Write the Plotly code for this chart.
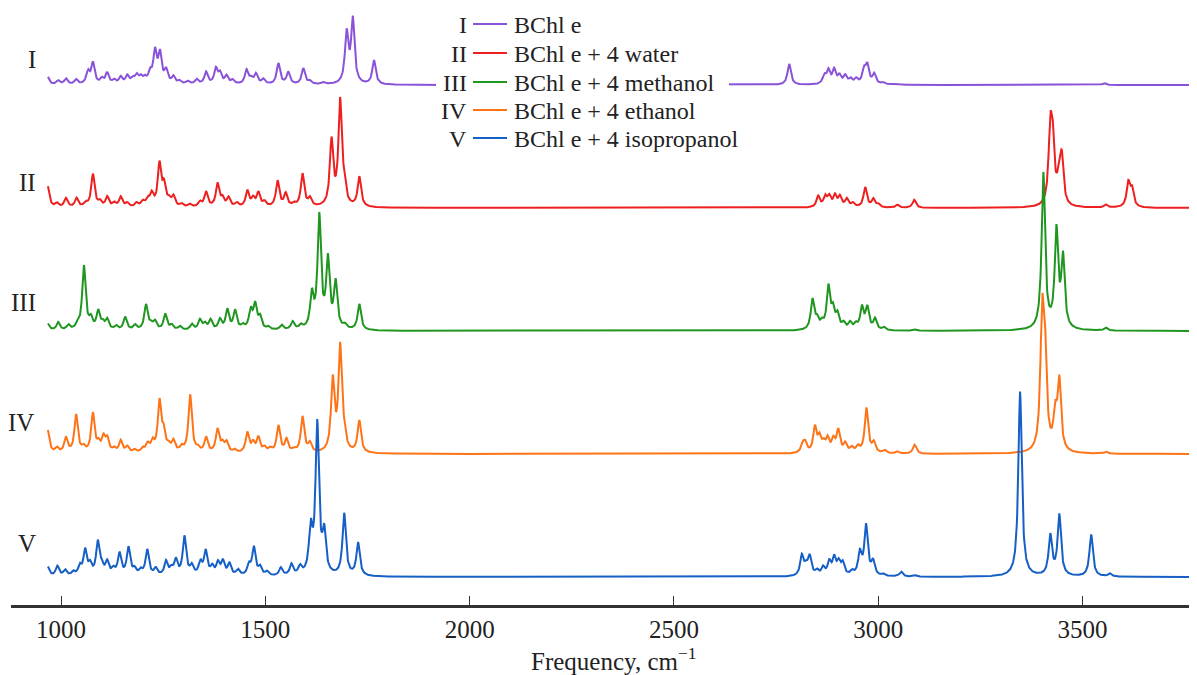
import numpy as np
import plotly.graph_objects as go

# ---------------- data ----------------
series_names = ["BChl e", "BChl e + 4 water", "BChl e + 4 methanol",
                "BChl e + 4 ethanol", "BChl e + 4 isopropanol"]
roman = ["I", "II", "III", "IV", "V"]

# peak positions (cm^-1) and intensities (arb. units) for each computed spectrum
freq_I = [967, 993, 1012, 1037, 1066, 1078, 1100, 1113, 1130, 1146, 1162, 1175, 1185, 1195,
          1205, 1218, 1230, 1242, 1257, 1275, 1290, 1310, 1332, 1355, 1379, 1389, 1405, 1420,
          1454, 1465, 1477, 1495, 1532, 1556, 1593, 1609, 1642, 1699, 1714, 1766,
          2782, 2868, 2878, 2892, 2905, 2919, 2932, 2946, 2965, 2973, 2990, 3011, 3030, 3045, 3553]
int_I = [8, 4, 6, 5, 12, 21, 5, 11, 4, 7, 8, 5, 8, 6,
         5, 10, 31, 29, 13, 7, 3, 3, 5, 12, 15, 10, 8, 4,
         14, 5, 10, 5, 21, 12, 16, 3, 2, 50, 64, 24,
         21, 8, 13, 14, 8, 8, 5, 5, 13, 18, 10, 2, 1, 1, 2]

freq_II = [967, 990, 1012, 1038, 1060, 1078, 1095, 1113, 1130, 1146, 1162, 1185, 1200, 1212,
           1222, 1241, 1252, 1264, 1275, 1295, 1315, 1340, 1355, 1383, 1395, 1410, 1430, 1456,
           1470, 1483, 1498, 1530, 1550, 1570, 1591, 1609, 1662, 1683, 1693, 1730,
           2853, 2870, 2880, 2894, 2906, 2923, 2938, 2968, 2988, 3000, 3047, 3088,
           3421, 3427, 3442, 3449, 3557, 3612, 3621]
int_II = [22, 4, 9, 9, 4, 33, 5, 10, 4, 10, 4, 4, 5, 7,
          12, 42, 20, 6, 10, 3, 3, 5, 15, 23, 8, 9, 4, 16,
          8, 14, 5, 26, 13, 3, 33, 8, 65, 104, 15, 30,
          11, 10, 10, 11, 10, 8, 4, 20, 8, 3, 3, 8,
          70, 55, 22, 46, 3, 24, 17]

freq_III = [967, 993, 1018, 1040, 1056, 1073, 1091, 1102, 1113, 1135, 1157, 1181, 1208, 1220,
            1230, 1255, 1271, 1291, 1320, 1340, 1352, 1366, 1389, 1407, 1426, 1445, 1464, 1475,
            1487, 1507, 1540, 1567, 1587, 1614, 1632, 1653, 1672, 1695, 1730,
            2839, 2850, 2862, 2878, 2889, 2900, 2915, 2931, 2945, 2960, 2973, 2992, 3014, 3088,
            3404, 3436, 3452, 3557]
int_III = [7, 8, 5, 4, 64, 10, 18, 6, 10, 4, 13, 5, 25, 5,
           8, 16, 5, 4, 6, 10, 6, 10, 10, 20, 19, 4, 19, 24,
           12, 3, 5, 8, 4, 33, 112, 68, 46, 4, 26,
           30, 9, 6, 42, 18, 14, 6, 7, 5, 22, 22, 11, 3, 1.5,
           156, 97, 70, 3]

freq_IV = [967, 990, 1012, 1037, 1055, 1078, 1092, 1104, 1113, 1130, 1146, 1162, 1180, 1200,
           1212, 1224, 1241, 1251, 1263, 1275, 1295, 1316, 1335, 1355, 1383, 1395, 1405, 1425,
           1456, 1470, 1483, 1498, 1512, 1532, 1552, 1570, 1591, 1609, 1665, 1683, 1693, 1730,
           2815, 2821, 2845, 2856, 2866, 2876, 2890, 2902, 2919, 2935, 2950, 2971, 2989, 3016,
           3047, 3089, 3401, 3408, 3433, 3443, 3557]
int_IV = [24, 5, 15, 38, 5, 39, 8, 14, 13, 4, 12, 6, 3, 4,
          8, 10, 50, 18, 6, 11, 5, 58, 4, 15, 23, 8, 10, 3,
          20, 9, 15, 5, 4, 27, 13, 3, 36, 9, 71, 104, 12, 32,
          8, 9, 25, 14, 8, 13, 12, 22, 9, 5, 6, 45, 10, 3,
          2, 9, 128, 88, 34, 69, 2]

freq_V = [967, 991, 1010, 1030, 1046, 1059, 1071, 1090, 1100, 1113, 1128, 1143, 1165, 1180,
          1195, 1211, 1232, 1257, 1270, 1281, 1302, 1320, 1341, 1354, 1370, 1384, 1396, 1412,
          1433, 1460, 1472, 1487, 1504, 1538, 1564, 1585, 1611, 1627, 1644, 1693, 1727,
          2813, 2823, 2832, 2850, 2865, 2880, 2892, 2903, 2913, 2936, 2955, 2970, 2987, 3013,
          3056, 3090, 3347, 3421, 3443, 3521, 3567]
int_V = [10, 10, 6, 4, 9, 25, 10, 33, 8, 13, 6, 22, 28, 6,
         5, 26, 7, 14, 6, 15, 39, 9, 13, 24, 8, 12, 14, 12,
         6, 10, 28, 8, 4, 8, 11, 8, 44, 150, 40, 62, 33,
         20, 8, 19, 5, 8, 13, 17, 12, 12, 4, 22, 50, 14, 2,
         5, 1.5, 185, 40, 61, 42, 3]

tick_vals = [1000, 1500, 2000, 2500, 3000, 3500]
tick_text = ["1000", "1500", "2000", "2500", "3000", "3500"]

freqs = [freq_I, freq_II, freq_III, freq_IV, freq_V]
ints = [int_I, int_II, int_III, int_IV, int_V]

# ---------------- styling / layout ----------------
colors = ["#8a52d8", "#ee1f1f", "#1f961f", "#ff7317", "#155fc6"]
offsets = [520, 397, 274, 151, 28]       # vertical stacking of the curves
HWHM = 5.0                              # Lorentzian half width (cm^-1)
PAGE = 8                                # default body margin of the html page
W, H = 1197 - PAGE, 675 - PAGE
AXIS_Y = 605                            # page y of the frequency axis
L, R, T, B = 11 - PAGE, 0, 0, 675 - AXIS_Y
PW, PH = W - L - R, H - T - B
X0, X1 = 877.6, 3780.0
SERIF = "Liberation Serif, Times New Roman, serif"

grid = np.arange(968.0, 3780.5, 1.0)


def broaden(f, a):
    f = np.asarray(f, float)[:, None]
    a = np.asarray(a, float)[:, None]
    return (a / (1.0 + ((grid[None, :] - f) / HWHM) ** 2)).sum(axis=0)


def px(x):      # page x -> paper
    return (x - PAGE - L) / PW


def py(y):      # page y -> paper
    return (AXIS_Y - y) / PH


fig = go.Figure()
for name, f, a, c, off in zip(series_names, freqs, ints, colors, offsets):
    fig.add_trace(go.Scatter(x=grid, y=broaden(f, a) + off, mode="lines", name=name,
                             line=dict(color=c, width=2), hoverinfo="skip"))

shapes = [dict(type="rect", xref="paper", yref="paper", x0=px(436), x1=px(729),
               y0=py(96), y1=py(70), fillcolor="white", line=dict(width=0), layer="above")]
annotations = []
rows_y = [24, 53, 82, 110, 138]
for r, name, c, yy in zip(roman, series_names, colors, rows_y):
    shapes.append(dict(type="line", xref="paper", yref="paper", x0=px(473), x1=px(507),
                       y0=py(yy), y1=py(yy), line=dict(color=c, width=2), layer="above"))
    annotations.append(dict(xref="paper", yref="paper", x=px(469), y=py(yy + 1), text=r,
                            showarrow=False, xanchor="right", yanchor="middle",
                            font=dict(family=SERIF, size=24, color="#222")))
    annotations.append(dict(xref="paper", yref="paper", x=px(512), y=py(yy + 1), text=name,
                            showarrow=False, xanchor="left", yanchor="middle",
                            font=dict(family=SERIF, size=24, color="#222")))

label_pos = [(38, 59), (38, 182), (38, 302), (36, 423), (38, 543)]
for r, (lx, ly) in zip(roman, label_pos):
    annotations.append(dict(xref="paper", yref="paper", x=px(lx), y=py(ly), text=r,
                            showarrow=False, xanchor="right", yanchor="middle",
                            font=dict(family=SERIF, size=25, color="#222")))

annotations.append(dict(xref="paper", yref="paper", x=px(614), y=py(659),
                        text="Frequency, cm<sup>\u22121</sup>", showarrow=False,
                        xanchor="center", yanchor="middle",
                        font=dict(family=SERIF, size=25, color="#222")))

fig.update_layout(
    width=W, height=H, margin=dict(l=L, r=R, t=T, b=B, pad=0),
    paper_bgcolor="white", plot_bgcolor="white", showlegend=False,
    shapes=shapes, annotations=annotations,
    xaxis=dict(range=[X0, X1], tickvals=tick_vals, ticktext=tick_text, ticks="inside",
               ticklen=9, tickwidth=1, tickcolor="#333", showline=True, linewidth=2.5,
               linecolor="#333", showgrid=False, zeroline=False,
               tickfont=dict(family=SERIF, size=25, color="#222")),
    yaxis=dict(range=[0, PH], visible=False, fixedrange=True),
)

fig.write_html("out.html")
